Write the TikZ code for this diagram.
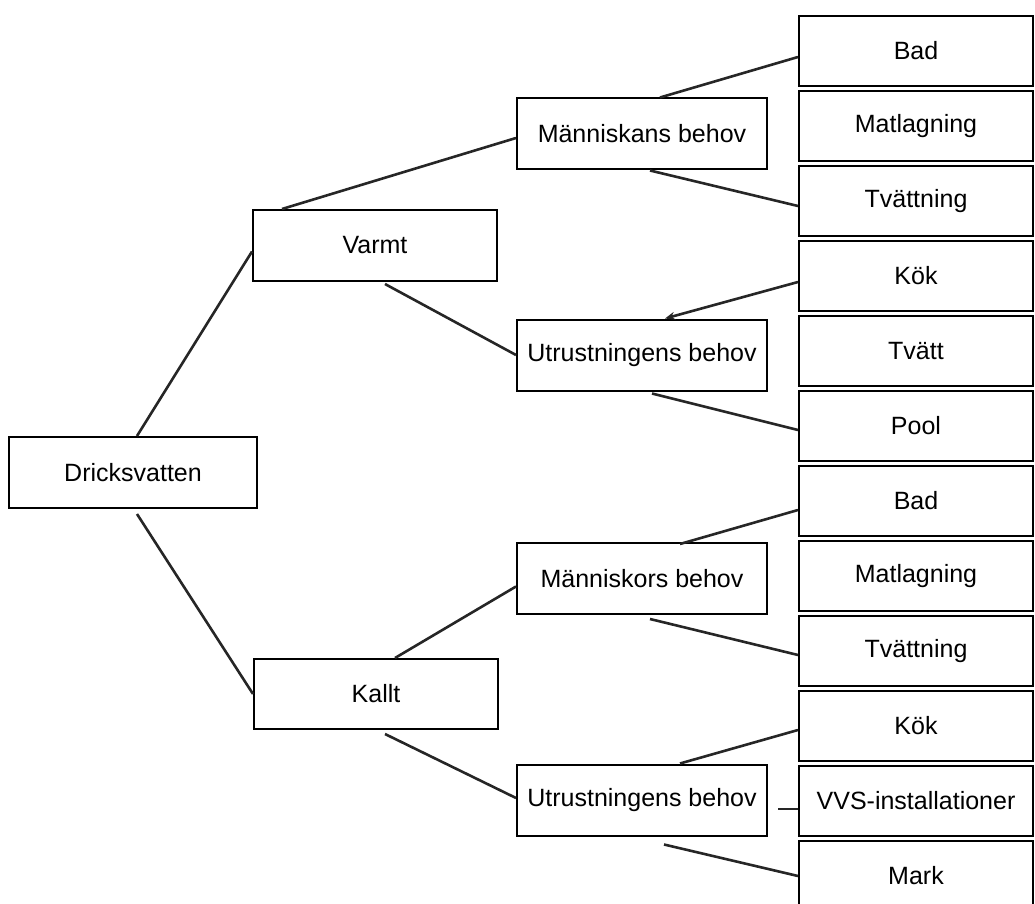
\documentclass[tikz,border=0pt]{standalone}
\usepackage{fontspec}
\setmainfont{Liberation Sans}
\usetikzlibrary{arrows.meta}

\tikzset{
  box/.style={draw, line width=1pt, inner sep=0pt, font=\fontsize{12.5}{15}\selectfont},
  mid/.style={box, minimum width=125pt, minimum height=35.5pt},
  leaf/.style={box, minimum width=117pt, minimum height=35pt},
  link/.style={line width=1.3pt, black!85}
}

\begin{document}
\begin{tikzpicture}[x=0.5pt, y=-0.5pt]
\clip (0,0) rectangle (1035,904);
\node[box, minimum width=124pt, minimum height=35.5pt] (drick) at (133,472.5) {Dricksvatten};
\node[box, minimum width=122pt, minimum height=35.5pt] (varmt) at (375,245.5) {Varmt};
\node[box, minimum width=122pt, minimum height=35pt] (kallt) at (376,694) {Kallt};

\node[mid] (man-a) at (642,134) {Människans behov};
\node[mid] (utr-a) at (642,355) {Utrustningens behov};
\node[mid] (man-b) at (642,578.5) {Människors behov};
\node[mid] (utr-b) at (642,800) {Utrustningens behov};

\node[leaf] (bad-a) at (916,51) {Bad};
\node[leaf] (mat-a) at (916,126) {Matlagning};
\node[leaf] (tvn-a) at (916,201) {Tvättning};
\node[leaf] (kok-a) at (916,276) {Kök};
\node[leaf] (tvatt) at (916,351) {Tvätt};
\node[leaf] (pool) at (916,426) {Pool};
\node[leaf] (bad-b) at (916,501) {Bad};
\node[leaf] (mat-b) at (916,576) {Matlagning};
\node[leaf] (tvn-b) at (916,651) {Tvättning};
\node[leaf] (kok-b) at (916,726) {Kök};
\node[leaf] (vvs) at (916,801) {VVS-installationer};
\node[leaf] (mark) at (916,876) {Mark};

\draw[link] ([xshift=2pt]drick.north) -- ([yshift=-3pt]varmt.west);
\draw[link] ([xshift=2pt,yshift=-2.5pt]drick.south) -- (kallt.west);
\draw[link] ([xshift=15pt]varmt.north west) -- ([yshift=-2pt]man-a.west);
\draw[link] ([xshift=5pt,yshift=-1pt]varmt.south) -- (utr-a.west);
\draw[link] ([xshift=9pt]man-a.north) -- ([yshift=-3pt]bad-a.west);
\draw[link] ([xshift=4pt]man-a.south) -- ([yshift=-2.5pt]tvn-a.west);
\draw[link, -{Stealth[length=5pt,width=4pt]}] ([yshift=-3pt]kok-a.west) -- ([xshift=11.5pt]utr-a.north);
\draw[link] ([xshift=5pt,yshift=-1pt]utr-a.south) -- ([yshift=-2pt]pool.west);
\draw[link] ([xshift=9.5pt]kallt.north) -- ([yshift=-4pt]man-b.west);
\draw[link] ([xshift=4.5pt,yshift=-2pt]kallt.south) -- ([yshift=1pt]utr-b.west);
\draw[link] ([xshift=19pt,yshift=-1pt]man-b.north) -- ([yshift=-4.5pt]bad-b.west);
\draw[link] ([xshift=4pt,yshift=-2pt]man-b.south) -- ([yshift=-2pt]tvn-b.west);
\draw[link] ([xshift=19pt]utr-b.north) -- ([yshift=-2pt]kok-b.west);
\draw[link] ([xshift=5pt,yshift=-4.5pt]utr-b.east) -- ([yshift=-4pt]vvs.west);
\draw[link] ([xshift=11pt,yshift=-4pt]utr-b.south) -- (mark.west);
\end{tikzpicture}
\end{document}
